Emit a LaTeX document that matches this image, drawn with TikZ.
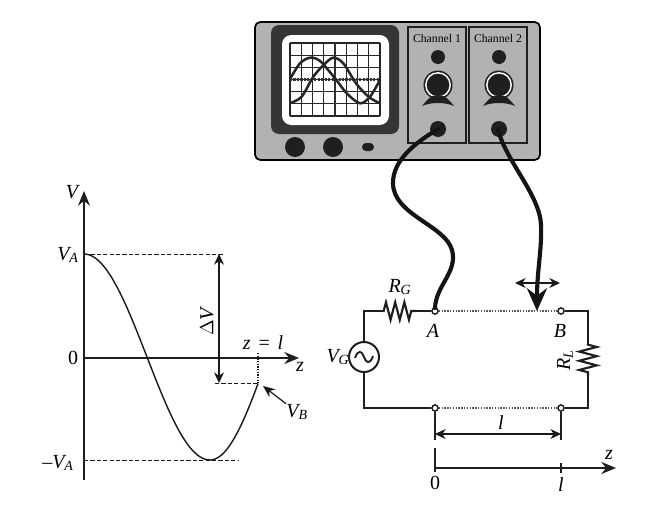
\documentclass[tikz,border=0pt]{standalone}
\usepackage{fontspec}
\setmainfont{Liberation Serif}
\usetikzlibrary{arrows.meta,decorations.pathmorphing}

\definecolor{panelgray}{gray}{.7}
\definecolor{knobblack}{gray}{.12}

\tikzset{
  wire/.style={line width=1.6pt,black!88},
  axis/.style={line width=1.6pt,black!88,-{Stealth[length=11pt,width=9pt]}},
  dash line/.style={line width=.7pt,black!90,dash pattern=on 3.2pt off 1.6pt},
  dim line/.style={line width=.8pt,black!90,{Stealth[length=8pt,width=7.5pt]}-{Stealth[length=8pt,width=7.5pt]}},
  cable/.style={line width=3.1pt,black!92,line cap=round},
  term/.style={circle,draw=black!88,fill=white,line width=1.1pt,inner sep=0pt,minimum size=4.6pt},
  knob/.style={fill=knobblack},
  lab/.style={font=\fontsize{15}{17}\selectfont\itshape,inner sep=0pt},
  chan/.style={font=\fontsize{8.8}{10}\selectfont,inner sep=0pt},
  resistor/.style={wire,decorate,decoration={zigzag,segment length=6.9pt,amplitude=6.6pt,pre length=.5pt,post length=.5pt}}
}

\newcommand{\subit}[2]{#1$_{\mathit{#2}}$}

\begin{document}
\begin{tikzpicture}[x=.75pt,y=-.75pt]
\useasboundingbox (0,0) rectangle (661,507);

% Body of the oscilloscope
\draw[fill=panelgray,line width=1.3pt,rounded corners=4pt] (255,22) rectangle (540,160);
\fill[knobblack!90,rounded corners=6pt] (271,25) rectangle (399,134);
\fill[white,rounded corners=7pt] (282,35) rectangle (389,125);

% Screen grid
\foreach \i in {0,...,8}
  \draw[line width=.8pt,black!85] ({290+11.25*\i},43) -- ({290+11.25*\i},116);
\foreach \j in {0,...,6}
  \draw[line width=.8pt,black!85] (290,{43+12.17*\j}) -- (380,{43+12.17*\j});
\draw[line width=1.6pt,black!80,densely dotted] (335,43) -- (335,116);
\draw[line width=1.6pt,black!80,densely dotted] (290,79.5) -- (380,79.5);

% The two traces
\draw[line width=1.9pt,black!85] plot[smooth] coordinates {(290,79) (300,63.3) (310,57.7)
  (320,61) (335,78.3) (346.7,93.3) (360,103.3) (370,96.7) (380,80)};
\draw[line width=1.9pt,black!85] plot[smooth] coordinates {(290,103.3) (301.7,96.7) (313.3,76.7)
  (324.3,64.3) (333.3,57.7) (343.3,63.3) (356.7,84.3) (369.3,97.3) (380,103.3)};

% Knobs under the screen
\fill[knob] (295,147) circle (10);
\fill[knob] (333,147) circle (10);
\fill[knob,rounded corners=3pt] (362,143) rectangle (374,151);

% Both channel panels
\foreach \cx/\cn in {437/1,498/2}{
  \draw[line width=1.3pt,black!88] (\cx-29,27) rectangle (\cx+29,143);
  \node[chan] (chan\cn) at (\cx,38) {Channel \cn};
  \fill[knob] (\cx+1,57) circle (7);
  \fill[knob] (\cx+1,85) circle (14.5);
  \draw[white,line width=1.1pt] (\cx+1,85) circle (12.2);
  \fill[knob] (\cx-15,106) .. controls (\cx-10,100) and (\cx-8,98) .. (\cx-5,96)
    -- (\cx+7,96) .. controls (\cx+10,98) and (\cx+13,101) .. (\cx+17,106)
    .. controls (\cx+8,102) and (\cx-6,102) .. (\cx-15,106) -- cycle;
  \fill[knob] (\cx+1,129) circle (8);
}
\coordinate (jack1) at (438,129);
\coordinate (jack2) at (498,129);

% Circuit
\coordinate (TL) at (364,311);
\coordinate (BL) at (364,408);
\coordinate (TR) at (588,311);
\coordinate (BR) at (588,408);
\coordinate (RGa) at (383,311);
\coordinate (RGb) at (416,311);
\coordinate (RLa) at (588,344);
\coordinate (RLb) at (588,376);
\node[circle,draw=black!88,fill=white,line width=1.5pt,inner sep=0pt,minimum size=22.5pt] (VG) at (364,357) {};
\node[term] (A) at (435,311) {};
\node[term] (B) at (561,311) {};
\node[term] (C) at (435,408) {};
\node[term] (D) at (561,408) {};
\draw[wire] (VG) -- (TL) -- (RGa);
\draw[resistor] (RGa) -- (RGb);
\draw[wire] (RGb) -- (A);
\draw[wire] (B) -- (TR) -- (RLa);
\draw[resistor] (RLa) -- (RLb);
\draw[wire] (RLb) -- (BR) -- (D);
\draw[wire] (C) -- (BL) -- (VG);
\draw[line width=1.1pt,black!65,densely dotted] (A) -- (B);
\draw[line width=1.1pt,black!65,densely dotted] (C) -- (D);
\draw[line width=1.4pt,black!88] (355,358) .. controls (358,349) and (362,351) .. (364,357)
  .. controls (366,363) and (370,365) .. (373,356);

% Cables from the channels to the line
\draw[cable] (jack1) .. controls (415,143) and (393,160) .. (393,183)
  .. controls (393,215) and (445,225) .. (452,250)
  .. controls (458,272) and (436,285) .. (435,308);
\draw[cable,-{Stealth[length=17pt,width=15pt]}] (jack2) .. controls (505,160) and (540,195) .. (541,225)
  .. controls (542,250) and (537,270) .. (537,311);

% Sliding arrow of the probe
\coordinate (slideL) at (515,283);
\coordinate (slideR) at (560,283);
\draw[dim line] (slideL) -- (slideR);

% Length l and the z axis below the circuit
\coordinate (Cd) at (435,440);
\coordinate (Dd) at (561,440);
\draw[wire] (C) -- (Cd);
\draw[wire] (D) -- (Dd);
\coordinate (l1) at (435,434);
\coordinate (l2) at (561,434);
\draw[dim line] (l1) -- (l2);
\node[lab] (lenl) at (501,423) {l};
\coordinate (zO) at (435,468);
\coordinate (zE) at (616,468);
\draw[axis] (zO) -- (zE);
\draw[wire] (435,448) -- (435,472);
\draw[wire] (561,463) -- (561,473);
\node[lab] (zero) at (435,483) {\upshape 0};
\node[lab] (ell) at (561,485) {l};
\node[lab] (zlow) at (609,455) {z};

% Circuit labels
\node[lab] (RG) at (400,287) {\subit{R}{G}};
\node[lab] (Alab) at (433,331) {A};
\node[lab] (Blab) at (560,331) {B};
\node[lab,rotate=90] (RL) at (565,360) {\subit{R}{L}};
\node[lab] (Vg) at (338,357) {\subit{V}{G}};

% Graph of the voltage along the line
\coordinate (O) at (84,358);
\coordinate (Vbot) at (84,480);
\coordinate (Vtop) at (84,191);
\coordinate (zend) at (299,358);
\draw[axis] (Vbot) -- (Vtop);
\draw[axis] (O) -- (zend);
\draw[dash line] (84,254) -- (223,254);
\draw[dash line] (84,460) -- (238,460);
\draw[dash line] (215,383) -- (258,383);
\draw[line width=1pt,black!90,densely dotted] (258,353) -- (258,383);
\draw[line width=1.05pt,black!90] plot[domain=0:180,samples=50] ({84+.7*\x},{357-103*cos(\x)})
  -- plot[domain=180:255,samples=20] ({210+.64*(\x-180)},{357-103*cos(\x)});
\coordinate (dV1) at (219,254);
\coordinate (dV2) at (219,383);
\draw[dim line] (dV1) -- (dV2);
\coordinate (VBtip) at (263,386);
\node[lab] (VB) at (297,412) {\subit{V}{B}};
\draw[line width=.9pt,black!90,-{Stealth[length=9pt,width=7.5pt]}] (VB.north west) -- (VBtip);

% Graph labels
\node[lab] (Vlab) at (72,192) {V};
\node[lab] (VA) at (68,255) {\subit{V}{A}};
\node[lab] (zero2) at (73,358) {\upshape 0};
\node[lab] (mVA) at (58,463) {\upshape --\itshape\subit{V}{A}};
\node[lab] (zlab) at (300,367) {z};
\node[lab,rotate=90] (dV) at (207,322) {\upshape$\Delta$\itshape V};
\node[lab] (zl) at (263,343) {z\,\,=\,\,l};
\end{tikzpicture}
\end{document}
